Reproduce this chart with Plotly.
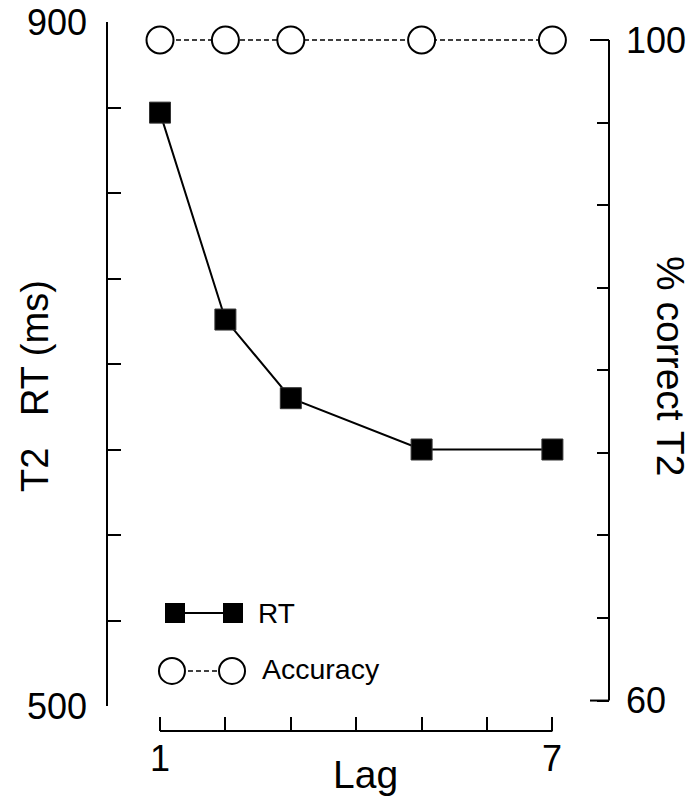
import plotly.graph_objects as go

# ---- data ----
lags = [1, 2, 3, 5, 7]
rt_ms = [847, 726, 680, 650, 650]
accuracy_pct = [100, 100, 100, 100, 100]

rt_ticks = [500, 550, 600, 650, 700, 750, 800, 850, 900]
rt_ticklabels = ["500", "", "", "", "", "", "", "", "900"]
acc_ticks = [60, 65, 70, 75, 80, 85, 90, 95, 100]
acc_ticklabels = ["60", "", "", "", "", "", "", "", "100"]
lag_ticks = [1, 2, 3, 4, 5, 6, 7]
lag_ticklabels = ["1", "", "", "", "", "", "7"]

FONT = "Liberation Sans, Arial, sans-serif"

fig = go.Figure()

fig.add_trace(go.Scatter(
    x=lags, y=rt_ms, mode="lines+markers", yaxis="y",
    line=dict(color="black", width=2),
    marker=dict(symbol="square", size=21, color="black",
                line=dict(color="#333", width=1)),
    showlegend=False, hoverinfo="skip"))

fig.add_trace(go.Scatter(
    x=lags, y=accuracy_pct, mode="lines+markers", yaxis="y2",
    line=dict(color="black", width=1.6, dash="5px,3px"),
    marker=dict(symbol="circle", size=27, color="white",
                line=dict(color="black", width=2)),
    showlegend=False, hoverinfo="skip"))

# ---- hand-drawn legend glyphs (layout decoration) ----
leg_rt_x = [1.229, 2.116]
leg_rt_y = [554.4, 554.4]
leg_acc_x = [1.183, 2.101]
leg_acc_y = [520.5, 520.5]
fig.add_trace(go.Scatter(
    x=leg_rt_x, y=leg_rt_y, mode="lines+markers", yaxis="y",
    line=dict(color="black", width=2),
    marker=dict(symbol="square", size=20, color="black"),
    showlegend=False, hoverinfo="skip"))
fig.add_trace(go.Scatter(
    x=leg_acc_x, y=leg_acc_y, mode="lines+markers", yaxis="y",
    line=dict(color="black", width=1.6, dash="5px,3px"),
    marker=dict(symbol="circle", size=26, color="white",
                line=dict(color="black", width=2)),
    showlegend=False, hoverinfo="skip"))

ann = []
def px_x(px):
    return (px - 107) / 502.0
def px_y(py):
    return (731 - py) / 709.0

tickfont = dict(family=FONT, size=36, color="black")

# x tick labels (only the labelled ends)
for v, t in zip(lag_ticks, lag_ticklabels):
    if t:
        ann.append(dict(text=t, xref="x", yref="paper", x=v, y=px_y(758),
                        xanchor="center", yanchor="middle", showarrow=False,
                        font=tickfont))

ann.append(dict(text="RT", xref="paper", yref="paper", x=px_x(256), y=px_y(613),
                xanchor="left", yanchor="middle", showarrow=False,
                font=dict(family=FONT, size=28, color="black")))
ann.append(dict(text="Accuracy", xref="paper", yref="paper", x=px_x(260), y=px_y(669),
                xanchor="left", yanchor="middle", showarrow=False,
                font=dict(family=FONT, size=28.5, color="black")))
ann.append(dict(text="Lag", xref="paper", yref="paper", x=px_x(365.5), y=px_y(775),
                xanchor="center", yanchor="middle", showarrow=False,
                font=dict(family=FONT, size=39, color="black")))
ann.append(dict(text="T2\u00a0\u00a0\u00a0RT (ms)", xref="paper", yref="paper",
                x=px_x(35), y=px_y(386), textangle=-90,
                xanchor="center", yanchor="middle", showarrow=False,
                font=dict(family=FONT, size=38, color="black")))
ann.append(dict(text="% correct T2", xref="paper", yref="paper",
                x=px_x(671), y=px_y(366), textangle=90,
                xanchor="center", yanchor="middle", showarrow=False,
                font=dict(family=FONT, size=39, color="black")))

shapes = [
    dict(type="line", xref="paper", yref="y", x0=0, x1=0, y0=500, y1=900,
         line=dict(color="black", width=2)),
    dict(type="line", xref="paper", yref="y2", x0=1, x1=1, y0=60, y1=100,
         line=dict(color="black", width=2)),
    dict(type="line", xref="paper", yref="y2", xsizemode="pixel", xanchor=1,
         x0=-19, x1=0, y0=100, y1=100, line=dict(color="black", width=2)),
    dict(type="line", xref="paper", yref="y2", xsizemode="pixel", xanchor=1,
         x0=-19, x1=0, y0=60, y1=60, line=dict(color="black", width=2)),
    dict(type="line", xref="x", yref="paper", x0=1, x1=7, y0=0, y1=0,
         line=dict(color="black", width=2)),
]

fig.update_layout(
    width=691, height=801,
    margin=dict(l=107, r=82, t=22, b=70, pad=0),
    plot_bgcolor="white", paper_bgcolor="white",
    annotations=ann, shapes=shapes,
    xaxis=dict(range=[0.1896, 7.8654], anchor="free", position=0,
               tickvals=lag_ticks, showticklabels=False,
               ticks="inside", ticklen=14, tickwidth=2, tickcolor="black",
               showline=False, showgrid=False, zeroline=False, automargin=False,
               fixedrange=True),
    yaxis=dict(range=[500, 900], domain=[25 / 709.0, 1],
               tickvals=rt_ticks, ticktext=rt_ticklabels,
               ticks="inside", ticklen=14, tickwidth=2, tickcolor="black",
               showline=False, showgrid=False, zeroline=False, automargin=False,
               tickfont=tickfont, ticklabelstandoff=19),
    yaxis2=dict(range=[59.67, 101.09], overlaying="y", side="right",
                tickvals=acc_ticks, ticktext=acc_ticklabels,
                ticks="inside", ticklen=12, tickwidth=2, tickcolor="black",
                showline=False, showgrid=False, zeroline=False, automargin=False,
                tickfont=tickfont, ticklabelstandoff=16),
)

fig.write_html("out.html")
